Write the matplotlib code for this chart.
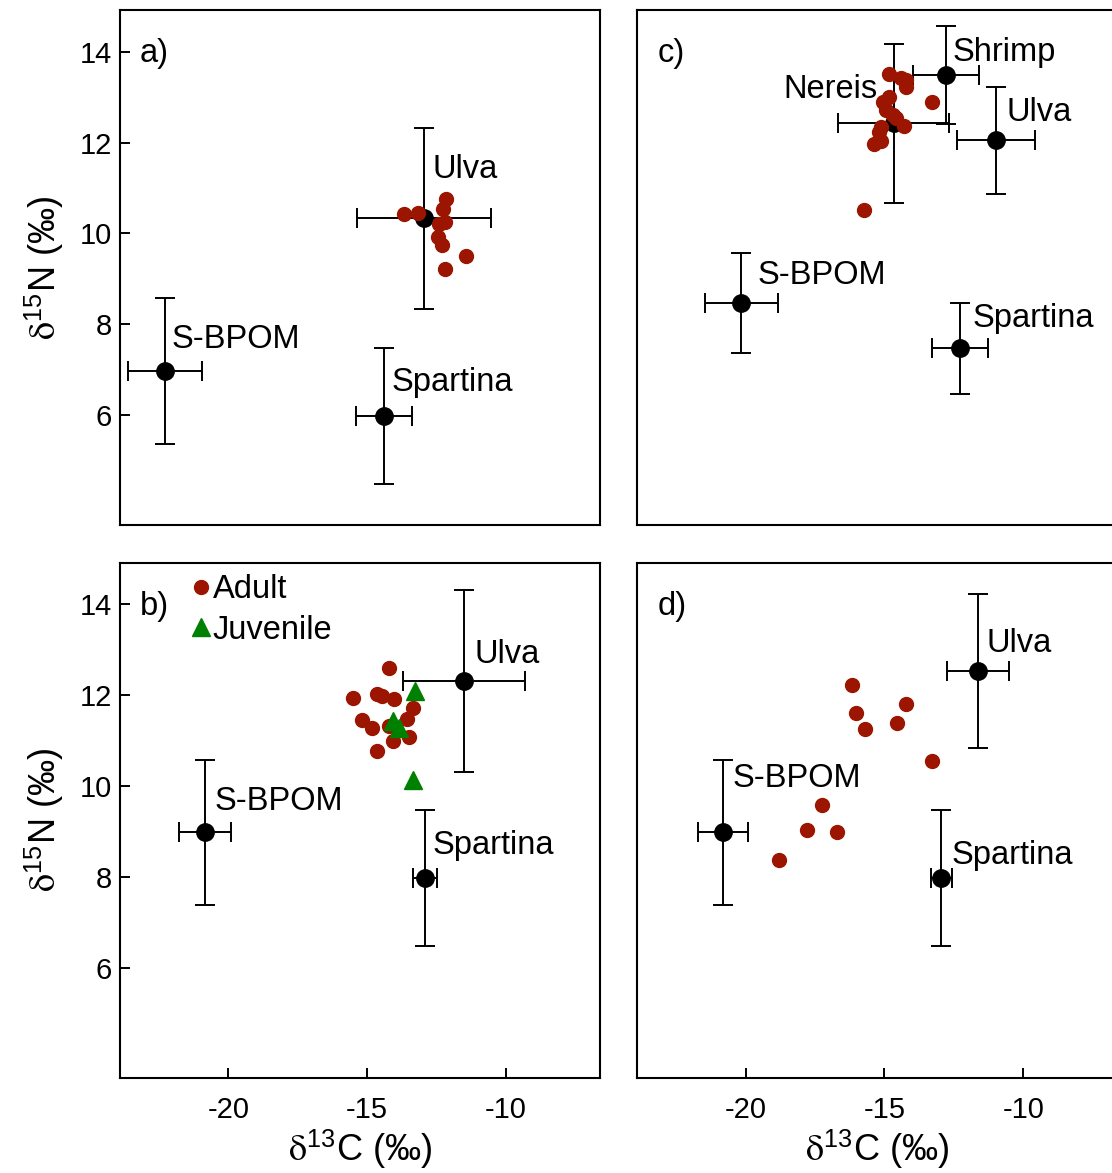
import matplotlib
matplotlib.use("Agg")
import matplotlib.pyplot as plt
from matplotlib.lines import Line2D

plt.rcParams['font.family'] = ['Liberation Sans', 'DejaVu Sans']
plt.rcParams['mathtext.fontset'] = 'stix'
plt.rcParams['axes.unicode_minus'] = False

RED = '#9c1500'
GREEN = '#008000'

# ---- panel a ----
a_names = ['S-BPOM', 'Spartina', 'Ulva']
a_x = [-22.28, -14.39, -12.95]
a_y = [6.97, 5.98, 10.33]
a_xerr = [1.33, 1.0, 2.41]
a_yerr = [1.6, 1.5, 2.0]
a_cons_x = [-13.66, -13.18, -12.17, -12.26, -12.20, -12.40, -12.44, -12.30, -11.45, -12.19]
a_cons_y = [10.43, 10.44, 10.75, 10.54, 10.25, 10.20, 9.93, 9.74, 9.51, 9.21]

# ---- panel b ----
b_names = ['S-BPOM', 'Spartina', 'Ulva']
b_x = [-20.84, -12.92, -11.52]
b_y = [8.98, 7.97, 12.32]
b_xerr = [0.94, 0.43, 2.2]
b_yerr = [1.6, 1.5, 2.0]
b_adult_x = [-14.21, -15.50, -14.66, -14.45, -14.03, -13.36, -15.20, -13.58, -14.84, -14.20, -14.08, -13.48, -14.66]
b_adult_y = [12.59, 11.94, 12.02, 11.99, 11.91, 11.72, 11.45, 11.48, 11.27, 11.33, 10.99, 11.07, 10.78]
b_juv_x = [-13.26, -14.06, -13.85, -13.34]
b_juv_y = [12.10, 11.44, 11.28, 10.13]

# ---- panel c ----
c_names = ['S-BPOM', 'Spartina', 'Ulva', 'Shrimp', 'Nereis']
c_x = [-20.15, -12.28, -10.98, -12.78, -14.67]
c_y = [8.47, 7.47, 12.05, 13.49, 12.42]
c_xerr = [1.3, 1.0, 1.4, 1.2, 2.0]
c_yerr = [1.1, 1.0, 1.18, 1.08, 1.75]
c_cons_x = [-14.82, -14.42, -14.24, -14.21, -14.82, -15.07, -13.27, -14.93, -14.68, -14.57,
            -14.28, -15.11, -15.18, -15.11, -15.36, -15.72]
c_cons_y = [13.51, 13.42, 13.38, 13.22, 13.00, 12.89, 12.89, 12.72, 12.61, 12.54,
            12.36, 12.34, 12.23, 12.03, 11.97, 10.51]

# ---- panel d ----
d_names = ['S-BPOM', 'Spartina', 'Ulva']
d_x = [-20.82, -12.95, -11.64]
d_y = [8.98, 7.97, 12.54]
d_xerr = [0.89, 0.38, 1.11]
d_yerr = [1.6, 1.5, 1.7]
d_cons_x = [-16.18, -16.04, -15.69, -14.22, -14.56, -13.30, -17.24, -17.79, -16.70, -18.80]
d_cons_y = [12.22, 11.60, 11.25, 11.80, 11.39, 10.56, 9.59, 9.04, 8.98, 8.37]

# label anchor points (left edge, vertical centre), data coords
a_lab = [(-22.03, 7.72), (-14.11, 6.77), (-12.63, 11.46)]
b_lab = [(-20.48, 9.71), (-12.63, 8.74), (-11.12, 12.95)]
c_lab = [(-19.57, 9.13), (-11.83, 8.18), (-10.61, 12.72), (-12.55, 14.04), (-18.63, 13.22)]
d_lab = [(-20.47, 10.22), (-12.59, 8.52), (-11.33, 13.21)]

FS = 23.5
TFS = 21
XLIM = (-23.9, -6.615)
YLIM = (3.575, 14.92)

fig = plt.figure(figsize=(11.12, 11.73), dpi=100)
W, H = 480 / 1112, 515 / 1173
L1, L2 = 120 / 1112, 637.3 / 1112
B1, B2 = (1173 - 525) / 1173, (1173 - 1077.7) / 1173
ax_a = fig.add_axes([L1, B1, W, H])
ax_c = fig.add_axes([L2, B1, W, H])
ax_b = fig.add_axes([L1, B2, W, H])
ax_d = fig.add_axes([L2, B2, W, H])


def sources(ax, xs, ys, xe, ye):
    ax.errorbar(xs, ys, xerr=xe, yerr=ye, fmt='o', color='black', ms=12.5,
                capsize=7, elinewidth=1.4, capthick=1.4, zorder=2)


def labels(ax, names, pos, tag):
    for n, (lx, ly) in zip(names, pos):
        ax.text(lx, ly - 0.06, n, fontsize=FS, ha='left', va='center')
    ax.text(-23.18, 14.0 - 0.04, tag, fontsize=FS, ha='left', va='center')


sources(ax_a, a_x, a_y, a_xerr, a_yerr)
ax_a.plot(a_cons_x, a_cons_y, 'o', color=RED, ms=10, zorder=3)
labels(ax_a, a_names, a_lab, 'a)')

sources(ax_c, c_x, c_y, c_xerr, c_yerr)
ax_c.plot(c_cons_x, c_cons_y, 'o', color=RED, ms=10, zorder=3)
labels(ax_c, c_names, c_lab, 'c)')

sources(ax_b, b_x, b_y, b_xerr, b_yerr)
ax_b.plot(b_adult_x, b_adult_y, 'o', color=RED, ms=10, zorder=3)
ax_b.plot(b_juv_x, b_juv_y, '^', color=GREEN, ms=12.5, zorder=4)
labels(ax_b, b_names, b_lab, 'b)')
hnd = [Line2D([], [], ls='none', marker='o', color=RED, ms=10, label='Adult'),
       Line2D([], [], ls='none', marker='^', color=GREEN, ms=12.5, label='Juvenile')]
ax_b.legend(handles=hnd, loc='upper left', bbox_to_anchor=(0.135, 0.99), frameon=False,
            fontsize=FS, handlelength=0.6, handletextpad=0.05, labelspacing=0.28,
            borderpad=0.2, borderaxespad=0)

sources(ax_d, d_x, d_y, d_xerr, d_yerr)
ax_d.plot(d_cons_x, d_cons_y, 'o', color=RED, ms=10, zorder=3)
labels(ax_d, d_names, d_lab, 'd)')

for ax in (ax_a, ax_b, ax_c, ax_d):
    ax.set_xlim(*XLIM)
    ax.set_ylim(*YLIM)
    ax.set_xticks([-20, -15, -10])
    ax.set_yticks([6, 8, 10, 12, 14])
    for s in ax.spines.values():
        s.set_linewidth(1.5)
    ax.tick_params(direction='in', length=7, width=1.4, labelsize=TFS, pad=6)
    ax.tick_params(axis='x', pad=13)

for ax in (ax_a, ax_c):
    ax.tick_params(axis='x', bottom=False, labelbottom=False)
for ax in (ax_c, ax_d):
    ax.tick_params(axis='y', left=False, labelleft=False)

for ax in (ax_a, ax_b):
    ax.set_ylabel(r'$\mathrm{\delta}^{\mathregular{15}}$N (‰)', fontsize=26, labelpad=10)
for ax in (ax_b, ax_d):
    ax.set_xlabel(r'$\mathrm{\delta}^{\mathregular{13}}$C (‰)', fontsize=26, labelpad=2)

fig.savefig('out.png', dpi=100)
